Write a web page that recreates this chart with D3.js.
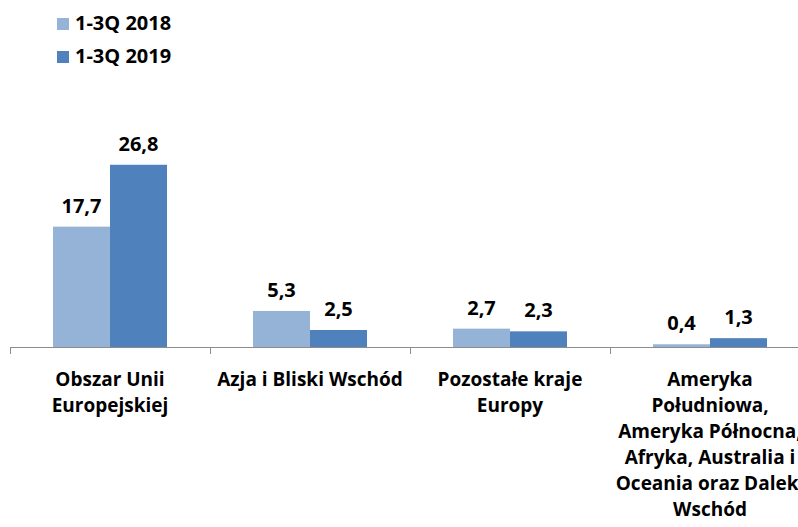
<!DOCTYPE html>
<html>
<head>
<meta charset="utf-8">
<script src="https://cdn.jsdelivr.net/npm/d3@7"></script>
<style>
  body { margin: 0; background: #fff; }
  text { font-family: "Open Sans", "Noto Sans", sans-serif; font-weight: bold; fill: #000; }
</style>
</head>
<body>
<div id="chart"></div>
<script>
// data
const categories = [
  ["Obszar Unii", "Europejskiej"],
  ["Azja i Bliski Wschód"],
  ["Pozostałe kraje", "Europy"],
  ["Ameryka", "Południowa,", "Ameryka Północna,", "Afryka, Australia i", "Oceania oraz Daleki", "Wschód"]
]
const seriesNames = ["1-3Q 2018", "1-3Q 2019"]
const values2018 = [17.7, 5.3, 2.7, 0.4]
const values2019 = [26.8, 2.5, 2.3, 1.3]
const colors = ["#95b3d7", "#4f81bd"]

const width = 798
const height = 527
const baseY = 347

const svg = d3.select("#chart").append("svg")
  .attr("width", width)
  .attr("height", height)

const x = d3.scaleBand()
  .domain(d3.range(categories.length))
  .range([10, 810])

const x1 = d3.scaleBand()
  .domain([0, 1])
  .range([43, 157])

const y = d3.scaleLinear()
  .domain([0, 30])
  .range([baseY, baseY - 204])

const fmt = v => d3.format(".1f")(v).replace(".", ",")

// bars
const series = [values2018, values2019]
series.forEach((vals, si) => {
  svg.append("g")
    .selectAll("rect")
    .data(vals)
    .enter()
    .append("rect")
    .attr("x", (d, i) => x(i) + x1(si))
    .attr("y", d => y(d))
    .attr("width", x1.bandwidth())
    .attr("height", d => baseY - y(d))
    .attr("fill", colors[si])

  svg.append("g")
    .selectAll("text")
    .data(vals)
    .enter()
    .append("text")
    .attr("x", (d, i) => x(i) + x1(si) + x1.bandwidth() / 2)
    .attr("y", d => y(d) - 14)
    .attr("text-anchor", "middle")
    .style("font-size", "20px")
    .text(fmt)
})

// axis
const axis = svg.append("g")
axis.append("line")
  .attr("x1", 10).attr("x2", width)
  .attr("y1", baseY + 0.5).attr("y2", baseY + 0.5)
  .attr("stroke", "#8c8c8c")
axis.selectAll(".tick")
  .data(d3.range(categories.length + 1))
  .enter()
  .append("line")
  .attr("x1", i => x.step() * i + 10.5)
  .attr("x2", i => x.step() * i + 10.5)
  .attr("y1", baseY)
  .attr("y2", baseY + 7)
  .attr("stroke", "#8c8c8c")

// category labels
categories.forEach((lines, i) => {
  const t = svg.append("text")
    .attr("text-anchor", "middle")
    .style("font-size", "19px")
  lines.forEach((ln, j) => {
    t.append("tspan")
      .attr("x", x(i) + x.bandwidth() / 2)
      .attr("y", 386 + j * 26)
      .text(ln)
  })
})

// legend
const legend = svg.append("g")
seriesNames.forEach((name, i) => {
  legend.append("rect")
    .attr("x", 57)
    .attr("y", 18 + i * 33)
    .attr("width", 12)
    .attr("height", 12)
    .attr("fill", colors[i])
  legend.append("text")
    .attr("x", 75)
    .attr("y", 30 + i * 33)
    .style("font-size", "20px")
    .text(name)
})
</script>
</body>
</html>
